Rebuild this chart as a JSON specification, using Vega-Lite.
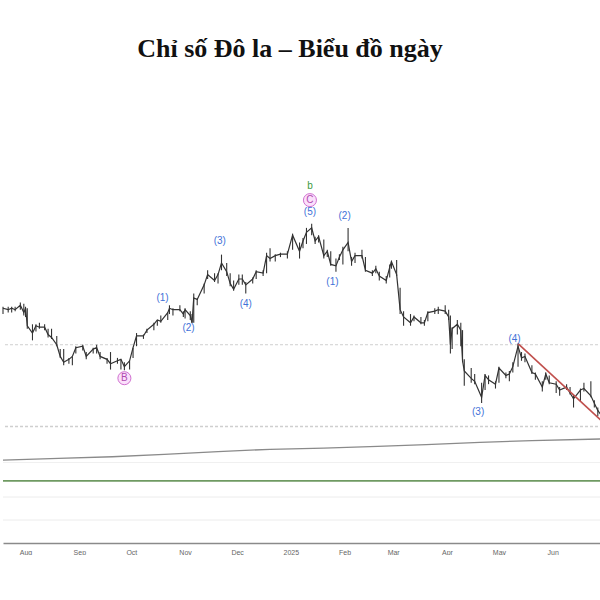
{
  "$schema": "https://vega.github.io/schema/vega-lite/v6.json",
  "padding": 0,
  "background": "white",
  "spacing": 0,
  "config": {"view": {"stroke": null}},
  "datasets": {
    "one": [{}],
    "px": [
      {"d":"2024-07-19","h":104.5,"l":104.0,"c":104.4},
      {"d":"2024-07-22","h":104.5,"l":104.1,"c":104.3},
      {"d":"2024-07-24","h":104.5,"l":104.1,"c":104.4},
      {"d":"2024-07-26","h":104.5,"l":104.2,"c":104.3},
      {"d":"2024-07-29","h":104.8,"l":104.3,"c":104.6},
      {"d":"2024-07-31","h":104.7,"l":103.9,"c":104.1},
      {"d":"2024-08-01","h":104.5,"l":103.8,"c":104.4},
      {"d":"2024-08-02","h":104.4,"l":103.0,"c":103.2},
      {"d":"2024-08-05","h":103.3,"l":102.2,"c":102.7},
      {"d":"2024-08-07","h":103.3,"l":102.8,"c":103.2},
      {"d":"2024-08-09","h":103.4,"l":103.0,"c":103.1},
      {"d":"2024-08-12","h":103.3,"l":102.9,"c":103.1},
      {"d":"2024-08-14","h":103.0,"l":102.4,"c":102.6},
      {"d":"2024-08-16","h":103.0,"l":102.3,"c":102.4},
      {"d":"2024-08-19","h":102.5,"l":101.8,"c":101.9},
      {"d":"2024-08-21","h":101.6,"l":101.0,"c":101.1},
      {"d":"2024-08-23","h":101.6,"l":100.5,"c":100.7},
      {"d":"2024-08-26","h":101.0,"l":100.6,"c":100.9},
      {"d":"2024-08-28","h":101.1,"l":100.5,"c":101.1},
      {"d":"2024-08-30","h":101.8,"l":101.3,"c":101.7},
      {"d":"2024-09-03","h":101.9,"l":101.5,"c":101.8},
      {"d":"2024-09-05","h":101.4,"l":100.9,"c":101.1},
      {"d":"2024-09-09","h":101.7,"l":101.3,"c":101.6},
      {"d":"2024-09-11","h":101.9,"l":101.3,"c":101.7},
      {"d":"2024-09-13","h":101.4,"l":100.9,"c":101.1},
      {"d":"2024-09-17","h":101.0,"l":100.6,"c":100.9},
      {"d":"2024-09-19","h":101.4,"l":100.2,"c":100.6},
      {"d":"2024-09-23","h":101.0,"l":100.6,"c":100.8},
      {"d":"2024-09-25","h":100.9,"l":100.2,"c":100.9},
      {"d":"2024-09-27","h":100.7,"l":100.16,"c":100.4},
      {"d":"2024-09-30","h":100.8,"l":100.2,"c":100.8},
      {"d":"2024-10-02","h":101.7,"l":101.0,"c":101.7},
      {"d":"2024-10-04","h":102.7,"l":101.8,"c":102.5},
      {"d":"2024-10-08","h":102.6,"l":102.3,"c":102.5},
      {"d":"2024-10-10","h":103.0,"l":102.7,"c":102.9},
      {"d":"2024-10-14","h":103.4,"l":102.9,"c":103.3},
      {"d":"2024-10-16","h":103.6,"l":103.2,"c":103.6},
      {"d":"2024-10-18","h":103.9,"l":103.4,"c":103.5},
      {"d":"2024-10-22","h":104.1,"l":103.6,"c":104.1},
      {"d":"2024-10-23","h":104.6,"l":104.0,"c":104.4},
      {"d":"2024-10-25","h":104.4,"l":103.9,"c":104.3},
      {"d":"2024-10-29","h":104.6,"l":104.2,"c":104.3},
      {"d":"2024-10-31","h":104.2,"l":103.8,"c":104.0},
      {"d":"2024-11-01","h":104.4,"l":103.7,"c":104.3},
      {"d":"2024-11-04","h":104.2,"l":103.6,"c":103.9},
      {"d":"2024-11-05","h":104.0,"l":103.4,"c":103.4},
      {"d":"2024-11-06","h":105.4,"l":103.4,"c":105.1},
      {"d":"2024-11-08","h":105.1,"l":104.6,"c":105.0},
      {"d":"2024-11-12","h":106.1,"l":105.4,"c":106.0},
      {"d":"2024-11-14","h":107.0,"l":106.4,"c":106.7},
      {"d":"2024-11-18","h":106.8,"l":106.2,"c":106.3},
      {"d":"2024-11-20","h":106.8,"l":106.1,"c":106.7},
      {"d":"2024-11-22","h":108.07,"l":107.0,"c":107.5},
      {"d":"2024-11-25","h":107.5,"l":106.6,"c":106.9},
      {"d":"2024-11-27","h":106.8,"l":105.9,"c":106.1},
      {"d":"2024-11-29","h":106.3,"l":105.6,"c":105.7},
      {"d":"2024-12-02","h":106.7,"l":106.0,"c":106.4},
      {"d":"2024-12-04","h":106.7,"l":106.0,"c":106.4},
      {"d":"2024-12-06","h":106.2,"l":105.4,"c":106.0},
      {"d":"2024-12-10","h":106.5,"l":106.1,"c":106.4},
      {"d":"2024-12-12","h":107.0,"l":106.4,"c":106.9},
      {"d":"2024-12-16","h":107.0,"l":106.6,"c":106.8},
      {"d":"2024-12-18","h":108.2,"l":106.8,"c":108.0},
      {"d":"2024-12-20","h":108.5,"l":107.6,"c":107.8},
      {"d":"2024-12-23","h":108.1,"l":107.6,"c":108.0},
      {"d":"2024-12-26","h":108.2,"l":107.9,"c":108.1},
      {"d":"2024-12-30","h":108.3,"l":107.8,"c":108.1},
      {"d":"2025-01-02","h":109.5,"l":108.4,"c":109.4},
      {"d":"2025-01-06","h":108.9,"l":107.8,"c":108.3},
      {"d":"2025-01-08","h":109.2,"l":108.5,"c":109.0},
      {"d":"2025-01-10","h":109.9,"l":108.8,"c":109.6},
      {"d":"2025-01-13","h":110.18,"l":109.4,"c":109.9},
      {"d":"2025-01-15","h":109.3,"l":108.8,"c":109.0},
      {"d":"2025-01-17","h":109.4,"l":108.9,"c":109.3},
      {"d":"2025-01-20","h":109.1,"l":107.8,"c":108.0},
      {"d":"2025-01-22","h":108.4,"l":107.9,"c":108.3},
      {"d":"2025-01-24","h":108.3,"l":107.3,"c":107.4},
      {"d":"2025-01-27","h":107.8,"l":106.9,"c":107.3},
      {"d":"2025-01-29","h":108.1,"l":107.7,"c":107.9},
      {"d":"2025-01-31","h":108.6,"l":107.4,"c":108.4},
      {"d":"2025-02-03","h":109.9,"l":108.3,"c":108.9},
      {"d":"2025-02-05","h":107.9,"l":107.3,"c":107.6},
      {"d":"2025-02-07","h":108.2,"l":107.5,"c":108.0},
      {"d":"2025-02-11","h":108.4,"l":107.8,"c":108.0},
      {"d":"2025-02-13","h":107.9,"l":106.9,"c":107.0},
      {"d":"2025-02-17","h":107.0,"l":106.6,"c":106.8},
      {"d":"2025-02-19","h":107.3,"l":106.8,"c":107.1},
      {"d":"2025-02-21","h":106.9,"l":106.3,"c":106.6},
      {"d":"2025-02-25","h":106.6,"l":106.1,"c":106.3},
      {"d":"2025-02-27","h":107.4,"l":106.5,"c":107.2},
      {"d":"2025-02-28","h":107.6,"l":107.1,"c":107.6},
      {"d":"2025-03-03","h":107.7,"l":106.6,"c":106.7},
      {"d":"2025-03-05","h":105.8,"l":104.0,"c":104.3},
      {"d":"2025-03-07","h":104.2,"l":103.2,"c":103.8},
      {"d":"2025-03-11","h":104.0,"l":103.2,"c":103.4},
      {"d":"2025-03-13","h":103.9,"l":103.5,"c":103.8},
      {"d":"2025-03-17","h":103.8,"l":103.3,"c":103.4},
      {"d":"2025-03-19","h":103.6,"l":103.2,"c":103.4},
      {"d":"2025-03-21","h":104.2,"l":103.5,"c":104.1},
      {"d":"2025-03-25","h":104.4,"l":104.0,"c":104.2},
      {"d":"2025-03-27","h":104.5,"l":104.0,"c":104.3},
      {"d":"2025-03-31","h":104.6,"l":104.0,"c":104.2},
      {"d":"2025-04-02","h":104.3,"l":103.6,"c":103.8},
      {"d":"2025-04-03","h":103.9,"l":101.3,"c":101.9},
      {"d":"2025-04-04","h":103.1,"l":101.6,"c":103.0},
      {"d":"2025-04-07","h":103.6,"l":102.6,"c":103.3},
      {"d":"2025-04-09","h":103.4,"l":101.8,"c":102.9},
      {"d":"2025-04-10","h":102.9,"l":100.7,"c":100.8},
      {"d":"2025-04-11","h":100.9,"l":99.1,"c":100.1},
      {"d":"2025-04-15","h":100.3,"l":99.3,"c":99.6},
      {"d":"2025-04-17","h":99.9,"l":99.2,"c":99.4},
      {"d":"2025-04-21","h":99.3,"l":97.92,"c":98.3},
      {"d":"2025-04-23","h":99.9,"l":98.8,"c":99.8},
      {"d":"2025-04-25","h":99.8,"l":99.2,"c":99.5},
      {"d":"2025-04-29","h":99.4,"l":98.9,"c":99.2},
      {"d":"2025-05-01","h":100.4,"l":99.3,"c":100.3},
      {"d":"2025-05-05","h":100.0,"l":99.6,"c":99.8},
      {"d":"2025-05-07","h":100.1,"l":99.4,"c":99.9},
      {"d":"2025-05-09","h":100.7,"l":100.0,"c":100.4},
      {"d":"2025-05-12","h":101.98,"l":100.4,"c":101.8},
      {"d":"2025-05-14","h":101.4,"l":100.8,"c":101.0},
      {"d":"2025-05-16","h":101.3,"l":100.7,"c":101.1},
      {"d":"2025-05-20","h":100.5,"l":99.9,"c":100.0},
      {"d":"2025-05-22","h":100.0,"l":99.5,"c":99.9},
      {"d":"2025-05-26","h":99.4,"l":98.7,"c":99.0},
      {"d":"2025-05-28","h":100.0,"l":99.5,"c":99.9},
      {"d":"2025-05-30","h":99.8,"l":99.2,"c":99.3},
      {"d":"2025-06-03","h":99.4,"l":98.6,"c":99.2},
      {"d":"2025-06-05","h":99.0,"l":98.4,"c":98.8},
      {"d":"2025-06-09","h":99.2,"l":98.8,"c":99.0},
      {"d":"2025-06-11","h":99.0,"l":98.5,"c":98.6},
      {"d":"2025-06-13","h":98.5,"l":97.6,"c":98.2},
      {"d":"2025-06-17","h":98.9,"l":98.0,"c":98.8},
      {"d":"2025-06-19","h":99.3,"l":98.7,"c":98.9},
      {"d":"2025-06-23","h":99.4,"l":98.3,"c":98.4},
      {"d":"2025-06-25","h":98.1,"l":97.6,"c":97.9},
      {"d":"2025-06-27","h":97.6,"l":97.0,"c":97.4},
      {"d":"2025-06-30","h":97.2,"l":96.4,"c":96.9}
    ],
    "labels": [
      {"d":"2025-01-12","p":112.76,"t":"b","k":"green"},
      {"d":"2025-01-12","p":111.8,"t":"C","k":"pink"},
      {"d":"2025-01-12","p":110.98,"t":"(5)","k":"blue"},
      {"d":"2025-02-01","p":110.68,"t":"(2)","k":"blue"},
      {"d":"2025-01-25","p":106.19,"t":"(1)","k":"blue"},
      {"d":"2024-11-21","p":109.0,"t":"(3)","k":"blue"},
      {"d":"2024-12-06","p":104.68,"t":"(4)","k":"blue"},
      {"d":"2024-10-19","p":105.09,"t":"(1)","k":"blue"},
      {"d":"2024-11-03","p":103.04,"t":"(2)","k":"blue"},
      {"d":"2024-09-27","p":99.61,"t":"B","k":"pink"},
      {"d":"2025-04-19","p":97.28,"t":"(3)","k":"blue"},
      {"d":"2025-05-10","p":102.28,"t":"(4)","k":"blue"}
    ],
    "trend": [
      {"d":"2025-05-12","p":101.98},
      {"d":"2025-06-30","p":96.6}
    ],
    "ind": [
      {"d":"2024-07-19","v":72},
      {"d":"2024-08-20","v":73.5},
      {"d":"2024-09-20","v":75},
      {"d":"2024-10-20","v":77},
      {"d":"2024-11-20","v":79.5},
      {"d":"2024-12-20","v":81.5},
      {"d":"2025-01-20","v":82.5},
      {"d":"2025-02-20","v":84},
      {"d":"2025-03-20","v":85.5},
      {"d":"2025-04-20","v":87.5},
      {"d":"2025-05-20","v":89},
      {"d":"2025-06-30","v":90.5}
    ]
  },
  "vconcat": [
    {
      "width": 600,
      "height": 428,
      "title": {"text": "Chỉ số Đô la – Biểu đồ ngày", "font": "Liberation Serif", "fontSize": 26, "fontWeight": "bold", "color": "#111", "anchor": "middle", "offset": -62, "dx": -13},
      "layer": [
        {
          "data": {"name": "one"},
          "mark": {"type": "rule", "color": "#cfcfcf", "strokeDash": [3, 2], "strokeWidth": 1},
          "encoding": {"y": {"datum": 101.9, "type": "quantitative", "scale": {"domain": [96.2, 125.5], "nice": false, "zero": false}, "axis": null}}
        },
        {
          "data": {"name": "one"},
          "mark": {"type": "rule", "color": "#cfcfcf", "strokeDash": [3, 2], "strokeWidth": 1.5},
          "encoding": {"y": {"datum": 96.3, "type": "quantitative"}}
        },
        {
          "data": {"name": "px"},
          "mark": {"type": "rule", "color": "#333", "strokeWidth": 1.1},
          "encoding": {
            "x": {"field": "d", "type": "temporal", "scale": {"domain": ["2024-07-19", "2025-06-30"]}, "axis": null},
            "y": {"field": "l", "type": "quantitative"},
            "y2": {"field": "h"}
          }
        },
        {
          "data": {"name": "px"},
          "mark": {"type": "line", "color": "#333", "strokeWidth": 1.2},
          "encoding": {
            "x": {"field": "d", "type": "temporal"},
            "y": {"field": "c", "type": "quantitative"}
          }
        },
        {
          "data": {"name": "trend"},
          "mark": {"type": "line", "color": "#c0504d", "strokeWidth": 1.6},
          "encoding": {
            "x": {"field": "d", "type": "temporal"},
            "y": {"field": "p", "type": "quantitative"}
          }
        },
        {
          "data": {"name": "labels"},
          "transform": [{"filter": "datum.k == 'pink'"}],
          "mark": {"type": "point", "shape": "circle", "filled": true, "size": 170, "fill": "#fbe0fb", "stroke": "#d070d0", "strokeWidth": 1, "opacity": 1},
          "encoding": {
            "x": {"field": "d", "type": "temporal"},
            "y": {"field": "p", "type": "quantitative"}
          }
        },
        {
          "data": {"name": "labels"},
          "mark": {"type": "text", "font": "Liberation Sans", "fontSize": 10, "baseline": "middle", "align": "center"},
          "encoding": {
            "x": {"field": "d", "type": "temporal"},
            "y": {"field": "p", "type": "quantitative"},
            "text": {"field": "t"},
            "color": {"field": "k", "type": "nominal", "scale": {"domain": ["blue", "pink", "green"], "range": ["#3f72d8", "#b04ab0", "#3a9a3a"]}, "legend": null}
          }
        }
      ]
    },
    {
      "width": 600,
      "height": 115,
      "layer": [
        {
          "data": {"name": "one"},
          "mark": {"type": "rule", "color": "#ececec", "strokeWidth": 1},
          "encoding": {"y": {"datum": 40, "type": "quantitative", "scale": {"domain": [0, 100], "nice": false}, "axis": null}}
        },
        {
          "data": {"name": "one"},
          "mark": {"type": "rule", "color": "#ececec", "strokeWidth": 1},
          "encoding": {"y": {"datum": 20, "type": "quantitative"}}
        },
        {
          "data": {"name": "one"},
          "mark": {"type": "rule", "color": "#f0f0f0", "strokeWidth": 1},
          "encoding": {"y": {"datum": 70, "type": "quantitative"}}
        },
        {
          "data": {"name": "one"},
          "mark": {"type": "rule", "color": "#6f9a62", "strokeWidth": 1.6},
          "encoding": {"y": {"datum": 54, "type": "quantitative"}}
        },
        {
          "data": {"name": "ind"},
          "mark": {"type": "line", "color": "#8a8a8a", "strokeWidth": 1.3},
          "encoding": {
            "x": {
              "field": "d", "type": "temporal",
              "scale": {"domain": ["2024-07-19", "2025-06-30"]},
              "axis": {
                "title": null, "grid": false, "ticks": false,
                "domainColor": "#8a8a8a", "domainWidth": 1.6,
                "labelFont": "Liberation Sans", "labelFontSize": 7, "labelColor": "#666",
                "labelPadding": 5, "labelAlign": "center", "labelFlush": false,
                "tickCount": {"interval": "month", "step": 1},
                "labelExpr": "month(datum.value) == 0 ? timeFormat(datum.value, '%Y') : timeFormat(datum.value, '%b')"
              }
            },
            "y": {"field": "v", "type": "quantitative"}
          }
        }
      ]
    }
  ]
}
